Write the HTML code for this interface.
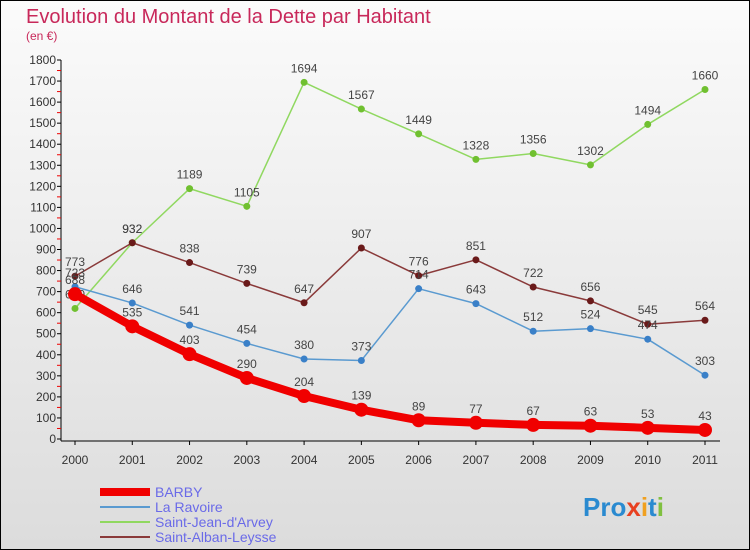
<!DOCTYPE html>
<html><head><meta charset="utf-8"><style>
body{margin:0;}
svg{display:block;font-family:"Liberation Sans",sans-serif;}
</style></head><body>
<svg width="750" height="550" viewBox="0 0 750 550">
<defs><linearGradient id="bg" x1="0" y1="0" x2="0" y2="1"><stop offset="0" stop-color="#fbfbfb"/><stop offset="1" stop-color="#dcdcdc"/></linearGradient></defs>
<rect x="0.5" y="0.5" width="749" height="549" fill="url(#bg)" stroke="#000"/>
<text x="26" y="23" font-size="20" fill="#c8285a">Evolution du Montant de la Dette par Habitant</text>
<text x="26" y="40" font-size="12" fill="#c8285a">(en €)</text>
<g id="axes"></g>
<g id="series"></g>
<g id="legend"></g>
<text x="583" y="516" font-size="26" font-weight="bold" fill="#e8a020"><tspan fill="#2a8ad0">Pro</tspan><tspan fill="#e84020">x</tspan><tspan fill="#f0a020">i</tspan><tspan fill="#2a8ad0">t</tspan><tspan fill="#80c040">i</tspan></text>
</svg>
<script>
const years=["2000","2001","2002","2003","2004","2005","2006","2007","2008","2009","2010","2011"];
const yTicks=[0,100,200,300,400,500,600,700,800,900,1000,1100,1200,1300,1400,1500,1600,1700,1800];
const barby=[688,535,403,290,204,139,89,77,67,63,53,43];
const laRavoire=[723,646,541,454,380,373,714,643,512,524,474,303];
const saintJean=[620,932,1189,1105,1694,1567,1449,1328,1356,1302,1494,1660];
const saintAlban=[773,932,838,739,647,907,776,851,722,656,545,564];
const NS="http://www.w3.org/2000/svg";
const x0=75,x1=705,y0=439,y1=60,ymax=1800;
const X=i=>x0+i*(x1-x0)/(years.length-1);
const Y=v=>y0-v*(y0-y1)/ymax;
function mk(t,a,p){const e=document.createElementNS(NS,t);for(const k in a)e.setAttribute(k,a[k]);p.appendChild(e);return e;}
const ax=document.getElementById('axes');
let l=mk('line',{x1:61,y1:Y(1800),x2:61,y2:y0+2,stroke:'#000'},ax);


l=mk('line',{x1:61,y1:y0+2,x2:720,y2:y0+2,stroke:'#000'},ax);


yTicks.forEach((v,i)=>{
 mk('line',{x1:57,y1:Y(v),x2:61,y2:Y(v),stroke:'#000'},ax);
 if(i<yTicks.length-1)mk('line',{x1:57,y1:Y(v+50),x2:61,y2:Y(v+50),stroke:'#e00'},ax);
 const t=mk('text',{x:56,y:Y(v)+4,'font-size':12,'text-anchor':'end',fill:'#333'},ax);
 t.textContent=v;
 
 
});
years.forEach((yr,i)=>{
 mk('line',{x1:X(i),y1:y0+2,x2:X(i),y2:y0+6,stroke:'#000'},ax);
 const t=mk('text',{x:X(i),y:y0+25,'font-size':12,'text-anchor':'middle',fill:'#333'},ax);
 t.textContent=yr;
 
 
});
const sg=document.getElementById('series');
const series=[
 {name:'saint-jean-d-arvey',data:saintJean,color:'#90d860',dot:'#70c030',w:1.5,r:3.5},
 {name:'saint-alban-leysse',data:saintAlban,color:'#8a3a3a',dot:'#6a1a1a',w:1.5,r:3.5},
 {name:'la-ravoire',data:laRavoire,color:'#5a9ad0',dot:'#3a80c8',w:1.5,r:3.5},
 {name:'barby',data:barby,color:'#f00000',dot:'#f00000',w:8,r:7}
];
series.forEach(s=>{
 const g=mk('g',{},sg);
 
 
 const p=mk('polyline',{points:s.data.map((v,i)=>X(i)+','+Y(v)).join(' '),fill:'none',stroke:s.color,'stroke-width':s.w,'stroke-linejoin':'round'},g);
 
 
 s.data.forEach((v,i)=>{
  const c=mk('circle',{cx:X(i),cy:Y(v),r:s.r,fill:s.dot},g);
  
  
  const t=mk('text',{x:X(i),y:Y(v)-10,'font-size':12,'text-anchor':'middle',fill:'#444'},g);
  t.textContent=v;
  
  
 });
});
const lg=document.getElementById('legend');
const legendItems=[['BARBY','#f00000',8],['La Ravoire','#5a9ad0',2],['Saint-Jean-d\'Arvey','#90d860',2],['Saint-Alban-Leysse','#8a3a3a',2]];
legendItems.forEach((it,i)=>{
 const y=492+i*15;
 const ln=mk('line',{x1:100,y1:y,x2:150,y2:y,stroke:it[1],'stroke-width':it[2]},lg);
 
 
 const t=mk('text',{x:155,y:y+5,'font-size':14,fill:'#6a6ae8'},lg);
 t.textContent=it[0];
 
 
});
</script>
</body></html>
